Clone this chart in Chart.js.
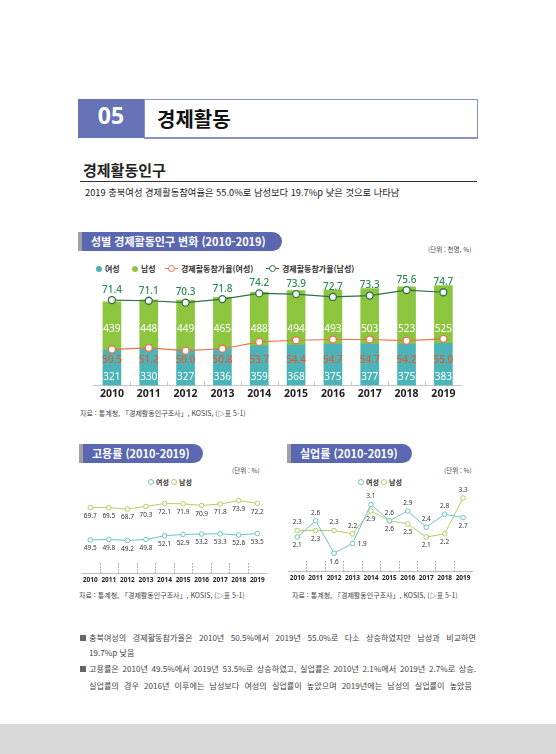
<!DOCTYPE html>
<html lang="ko">
<head>
<meta charset="utf-8">
<script src="https://cdn.jsdelivr.net/npm/chart.js@4.4.1/dist/chart.umd.min.js"></script>
<style>
body { margin:0; width:556px; height:754px; position:relative; background:#fff; overflow:hidden;
       font-family:"Noto Sans CJK KR", "Noto Sans", sans-serif; color:#222; }
.abs { position:absolute; white-space:nowrap; }
.pill { position:absolute; height:19px; background:#5b67b0; border-left:4px solid #a0a0a0;
        border-radius:0 10px 10px 0; color:#fff; font-weight:700; font-size:11px; line-height:19px;
        padding-left:9px; box-sizing:border-box; }
.unit { position:absolute; font-size:6.5px; color:#444; line-height:8px; }
.src { position:absolute; font-size:7px; color:#444; line-height:9px; white-space:nowrap; }
.lg { position:absolute; font-size:8px; font-weight:700; color:#333; line-height:10px; white-space:nowrap; }
.dot { display:inline-block; width:6px; height:6px; border-radius:50%; vertical-align:middle; margin-right:3px; position:relative; top:-1px; }
.ring { display:inline-block; width:4px; height:4px; border-radius:50%; border:1.2px solid; background:#fff; vertical-align:middle; margin-right:2px; position:relative; top:-1px; }
.lline { display:inline-block; width:13px; height:7px; vertical-align:middle; position:relative; top:-1px; margin-right:3px; }
.lline:before { content:""; position:absolute; left:0; right:0; top:3px; border-top:1px solid; border-color:inherit; }
.lline i { position:absolute; left:3px; top:0; width:5px; height:5px; border-radius:50%; border:1px solid; border-color:inherit; background:#fff; }
.bl { position:absolute; left:89px; width:387px; font-size:8.1px; color:#444; line-height:12px; white-space:nowrap; }
.just { text-align:justify; text-align-last:justify; white-space:normal; }
canvas { position:absolute; }
</style>
</head>
<body>
<!-- header -->
<div class="abs" style="left:78px;top:99px;width:66px;height:39px;background:#6674b7;"></div>
<div class="abs" style="left:78px;top:99px;width:66px;height:39px;line-height:39px;text-align:center;color:#fff;font:700 23px 'Noto Sans', sans-serif;">05</div>
<div class="abs" style="left:144px;top:99px;width:332px;height:37px;border:1px solid #8a93c6;border-bottom:2px solid #8a93c6;"></div>
<div class="abs" style="left:157px;top:104px;font-size:20px;font-weight:700;line-height:30px;color:#111;">경제활동</div>

<div class="abs" style="left:83px;top:160px;font-size:15px;font-weight:700;line-height:20px;color:#222;">경제활동인구</div>
<div class="abs" style="left:80px;top:181px;width:397px;height:0;border-top:1.5px solid #333;"></div>
<div class="abs" style="left:85px;top:186px;font-size:9.3px;line-height:12px;color:#222;">2019 충북여성 경제활동참여율은 55.0%로 남성보다 19.7%p 낮은 것으로 나타남</div>

<!-- top chart -->
<div class="pill" style="left:78px;top:232px;width:204px;">성별 경제활동인구 변화 (2010-2019)</div>
<div class="unit" style="left:428px;top:245px;">(단위 : 천명, %)</div>
<div class="lg" style="left:96px;top:264px;"><span class="dot" style="background:#4bb4b8"></span>여성</div>
<div class="lg" style="left:132px;top:264px;"><span class="dot" style="background:#8cc63f"></span>남성</div>
<div class="lg" style="left:165px;top:264px;"><span class="lline" style="border-color:#e8744c"><i></i></span>경제활동참가율(여성)</div>
<div class="lg" style="left:266px;top:264px;"><span class="lline" style="border-color:#2f7048"><i></i></span>경제활동참가율(남성)</div>
<canvas id="econ" width="400" height="140" style="left:80px;top:262px;"></canvas>
<div class="src" style="left:80px;top:409px;">자료 : 통계청, 「경제활동인구조사」, KOSIS, (▷표 5-1)</div>

<!-- employment -->
<div class="pill" style="left:79px;top:444px;width:124px;">고용률 (2010-2019)</div>
<div class="unit" style="left:232px;top:466px;">(단위 : %)</div>
<div class="lg" style="left:148px;top:477px;font-size:7px;"><span class="ring" style="border-color:#6cc3c3"></span>여성</div>
<div class="lg" style="left:171px;top:477px;font-size:7px;"><span class="ring" style="border-color:#b3cd66"></span>남성</div>
<canvas id="emp" width="200" height="109" style="left:76px;top:478px;"></canvas>
<div class="src" style="left:79px;top:591px;">자료 : 통계청, 「경제활동인구조사」, KOSIS, (▷표 5-1)</div>

<!-- unemployment -->
<div class="pill" style="left:287px;top:444px;width:125px;">실업률 (2010-2019)</div>
<div class="unit" style="left:444px;top:466px;">(단위 : %)</div>
<div class="lg" style="left:358px;top:477px;font-size:7px;"><span class="ring" style="border-color:#6cc3c3"></span>여성</div>
<div class="lg" style="left:381px;top:477px;font-size:7px;"><span class="ring" style="border-color:#b3cd66"></span>남성</div>
<canvas id="unemp" width="200" height="107" style="left:283px;top:478px;"></canvas>
<div class="src" style="left:292px;top:591px;">자료 : 통계청, 「경제활동인구조사」, KOSIS, (▷표 5-1)</div>

<!-- bullets -->
<div class="abs" style="left:80px;top:635px;width:6px;height:6px;background:#666;"></div>
<div class="bl just" style="top:632px;">충북여성의 경제활동참가율은 2010년 50.5%에서 2019년 55.0%로 다소 상승하였지만 남성과 비교하면</div>
<div class="bl" style="top:647px;">19.7%p 낮음</div>
<div class="abs" style="left:80px;top:666px;width:6px;height:6px;background:#666;"></div>
<div class="bl just" style="top:663px;">고용률은 2010년 49.5%에서 2019년 53.5%로 상승하였고, 실업률은 2010년 2.1%에서 2019년 2.7%로 상승.</div>
<div class="bl just" style="top:680px;width:383px;">실업률의 경우 2016년 이후에는 남성보다 여성의 실업률이 높았으며 2019년에는 남성의 실업률이 높았음</div>

<div class="abs" style="left:0;top:724px;width:556px;height:30px;background:#d9d9d9;"></div>

<script>
const years = ["2010", "2011", "2012", "2013", "2014", "2015", "2016", "2017", "2018", "2019"];

// 경제활동인구 (천명)
const femaleWorkforce = [321, 330, 327, 336, 359, 368, 375, 377, 375, 383];
const maleWorkforce = [439, 448, 449, 465, 488, 494, 493, 503, 523, 525];
// 경제활동참가율 (%)
const femaleParticipation = [50.5, 51.2, 50.0, 50.8, 53.7, 54.4, 54.7, 54.7, 54.2, 55.0];
const maleParticipation = [71.4, 71.1, 70.3, 71.8, 74.2, 73.9, 72.7, 73.3, 75.6, 74.7];

// 고용률 (%)
const femaleEmployment = [49.5, 49.8, 49.2, 49.8, 52.1, 52.9, 53.2, 53.3, 52.6, 53.5];
const maleEmployment = [69.7, 69.5, 68.7, 70.3, 72.1, 71.9, 70.9, 71.8, 73.9, 72.2];

// 실업률 (%)
const femaleUnemployment = [2.1, 2.6, 1.6, 1.9, 3.1, 2.6, 2.9, 2.4, 2.8, 2.7];
const maleUnemployment = [2.3, 2.3, 2.3, 2.2, 2.9, 2.6, 2.5, 2.1, 2.2, 3.3];
// where each unemployment label sits next to its point
const femaleUnempLabelPos = ["below", "above", "below", "right", "above", "above", "above", "above", "above", "below"];
const maleUnempLabelPos = ["above", "below", "above", "above", "below", "below", "below", "below", "below", "above"];

Chart.defaults.font.family = '"Noto Sans", "Noto Sans CJK KR", sans-serif';
Chart.defaults.animation = false;

const teal = "#4bb4b8";
const green = "#8cc63f";

// small marks between categories on the x axis
function betweenTicks(len, color, dashed) {
    return {
        id: "betweenTicks",
        afterDraw(chart) {
            const ctx = chart.ctx;
            const x = chart.scales.x;
            const bottom = chart.chartArea.bottom;
            ctx.save();
            ctx.strokeStyle = color;
            ctx.lineWidth = 1;
            if (dashed) ctx.setLineDash([1.5, 1.5]);
            for (let i = 0; i < years.length - 1; i++) {
                const px = Math.round((x.getPixelForValue(i) + x.getPixelForValue(i + 1)) / 2) + 0.5;
                ctx.beginPath();
                ctx.moveTo(px, bottom - len);
                ctx.lineTo(px, bottom);
                ctx.stroke();
            }
            ctx.restore();
        }
    };
}

const econLabels = {
    id: "econLabels",
    afterDatasetsDraw(chart) {
        const ctx = chart.ctx;
        const bottom = chart.chartArea.bottom;
        ctx.save();
        ctx.textAlign = "center";
        ctx.textBaseline = "middle";
        ctx.font = '10px "Noto Sans"';
        ctx.fillStyle = "#fff";
        chart.getDatasetMeta(0).data.forEach((bar, i) => {
            ctx.fillText(femaleWorkforce[i], bar.x, bottom - 8);
        });
        chart.getDatasetMeta(1).data.forEach((bar, i) => {
            ctx.fillText(maleWorkforce[i], bar.x, bottom - 56);
        });
        ctx.font = '500 10px "Noto Sans"';
        ctx.fillStyle = "#e65a30";
        chart.getDatasetMeta(2).data.forEach((pt, i) => {
            ctx.fillText(femaleParticipation[i].toFixed(1), pt.x, bottom - 25);
        });
        ctx.fillStyle = "#2a8a4c";
        chart.getDatasetMeta(3).data.forEach((pt, i) => {
            ctx.fillText(maleParticipation[i].toFixed(1), pt.x, pt.y - 10);
        });
        ctx.restore();
    }
};

new Chart(document.getElementById("econ"), {
    type: "bar",
    data: {
        labels: years,
        datasets: [
            { label: "여성", data: femaleWorkforce, backgroundColor: teal, stack: "pop", order: 2 },
            { label: "남성", data: maleWorkforce, backgroundColor: green, stack: "pop", order: 2 },
            {
                type: "line", label: "경제활동참가율(여성)", data: femaleParticipation, yAxisID: "y2",
                borderColor: "#e8744c", borderWidth: 1.2, pointBackgroundColor: "#fff",
                pointBorderColor: "#e8744c", pointBorderWidth: 1.3, pointRadius: 3.5, order: 1
            },
            {
                type: "line", label: "경제활동참가율(남성)", data: maleParticipation, yAxisID: "y2",
                borderColor: "#2f7048", borderWidth: 1.2, pointBackgroundColor: "#fff",
                pointBorderColor: "#2f7048", pointBorderWidth: 1.3, pointRadius: 3.5, order: 1
            }
        ]
    },
    options: {
        responsive: false,
        layout: { padding: { left: 13.5, right: 18.2, top: 8, bottom: 0 } },
        barThickness: 18,
        plugins: { legend: { display: false }, tooltip: { enabled: false } },
        scales: {
            x: {
                stacked: true,
                grid: { display: false, drawTicks: false },
                border: { display: true, color: "#c8c8c8", width: 1 },
                ticks: { padding: 2, color: "#222", maxRotation: 0, autoSkip: false, font: { size: 10.5, weight: "700" } }
            },
            y: { stacked: true, display: false, min: 0, max: 1050 },
            y2: { display: false, min: 35.3, max: 84.1 }
        }
    },
    plugins: [econLabels, betweenTicks(4, "#c8c8c8", false)]
});

function pointLabels(sets) {
    return {
        id: "pointLabels",
        afterDatasetsDraw(chart) {
            const ctx = chart.ctx;
            ctx.save();
            ctx.font = '6.5px "Noto Sans"';
            ctx.fillStyle = "#333";
            ctx.textBaseline = "middle";
            sets.forEach((s, d) => {
                chart.getDatasetMeta(d).data.forEach((pt, i) => {
                    const pos = s.pos ? s.pos[i] : "below";
                    ctx.textAlign = pos === "right" ? "left" : "center";
                    let x = pt.x, y = pt.y + 8.5;
                    if (pos === "above") y = pt.y - 8;
                    if (pos === "right") { x = pt.x + 5; y = pt.y + 1; }
                    ctx.fillText(s.values[i].toFixed(1), x, y);
                });
            });
            ctx.restore();
        }
    };
}

function lineOptions(min, max, padLeft, padRight) {
    return {
        responsive: false,
        layout: { padding: { left: padLeft, right: padRight, top: 2, bottom: 0 } },
        plugins: { legend: { display: false }, tooltip: { enabled: false } },
        scales: {
            x: {
                offset: true,
                grid: { display: false, drawTicks: false },
                border: { display: true, color: "#bdbdbd", width: 1 },
                ticks: {
                    padding: 3, color: "#222", maxRotation: 0, minRotation: 0, autoSkip: false,
                    font: { size: 6.5, weight: "700" }
                }
            },
            y: { display: false, min: min, max: max }
        }
    };
}

function lineSet(label, data, color) {
    return {
        label: label, data: data, borderColor: color, borderWidth: 1,
        pointBackgroundColor: "#fff", pointBorderColor: color, pointBorderWidth: 1,
        pointRadius: 2.3
    };
}

new Chart(document.getElementById("emp"), {
    type: "line",
    data: {
        labels: years,
        datasets: [
            lineSet("여성", femaleEmployment, "#6cc3c3"),
            lineSet("남성", maleEmployment, "#b3cd66")
        ]
    },
    options: lineOptions(28.9, 84.8, 2.6, 9.4),
    plugins: [
        pointLabels([{ values: femaleEmployment }, { values: maleEmployment }]),
        betweenTicks(10, "#999", true)
    ]
});

new Chart(document.getElementById("unemp"), {
    type: "line",
    data: {
        labels: years,
        datasets: [
            lineSet("여성", femaleUnemployment, "#6cc3c3"),
            lineSet("남성", maleUnemployment, "#b3cd66")
        ]
    },
    options: lineOptions(1.05, 3.76, 2.7, 10.7),
    plugins: [
        pointLabels([
            { values: femaleUnemployment, pos: femaleUnempLabelPos },
            { values: maleUnemployment, pos: maleUnempLabelPos }
        ]),
        betweenTicks(10, "#999", true)
    ]
});
</script>
</body>
</html>
